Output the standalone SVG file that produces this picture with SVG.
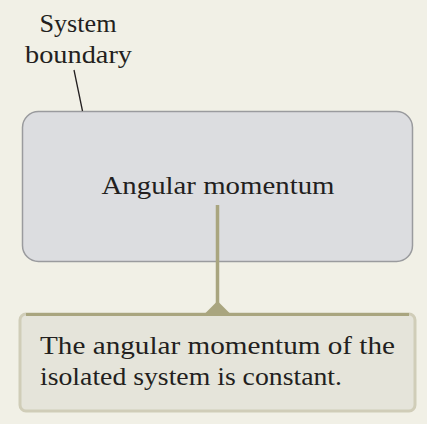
<svg xmlns="http://www.w3.org/2000/svg" width="427" height="424" viewBox="0 0 427 424">
  <style>
    .t { font-family: "Liberation Serif", "Times New Roman", serif; fill: #231f20; }
  </style>
  <rect x="0" y="0" width="427" height="424" fill="#f1f0e6"/>
  <g id="label-system-boundary">
    <text class="t" font-size="25" x="78" y="32" text-anchor="middle" textLength="77" lengthAdjust="spacingAndGlyphs">System</text>
    <text class="t" font-size="25" x="78.5" y="63" text-anchor="middle" textLength="107" lengthAdjust="spacingAndGlyphs">boundary</text>
  </g>
  <g id="system-box">
    <rect x="22.5" y="111.5" width="390" height="150" rx="16" ry="16" fill="#dcdde0" stroke="#9a9b9e" stroke-width="1.5"/>
    <text class="t" font-size="26" x="101.5" y="193.5" textLength="233" lengthAdjust="spacingAndGlyphs">Angular momentum</text>
  </g>
  <g id="result-box">
    <rect x="20" y="314" width="395" height="97" rx="6" ry="6" fill="#e5e4da" stroke="#d0cdb8" stroke-width="3"/>
    <line x1="26" y1="314.5" x2="409" y2="314.5" stroke="#a9a57f" stroke-width="3"/>
    <text class="t" font-size="26" x="40" y="354" textLength="355" lengthAdjust="spacingAndGlyphs">The angular momentum of the</text>
    <text class="t" font-size="26" x="40" y="385" textLength="302" lengthAdjust="spacingAndGlyphs">isolated system is constant.</text>
  </g>
  <g id="connectors">
    <line x1="74" y1="70" x2="82.5" y2="111" stroke="#231f20" stroke-width="1.3"/>
    <line x1="217.5" y1="205" x2="217.5" y2="306" stroke="#a9a57f" stroke-width="3.5"/>
    <polygon points="217.5,301 205,313.5 230,313.5" fill="#a9a57f"/>
  </g>
</svg>
